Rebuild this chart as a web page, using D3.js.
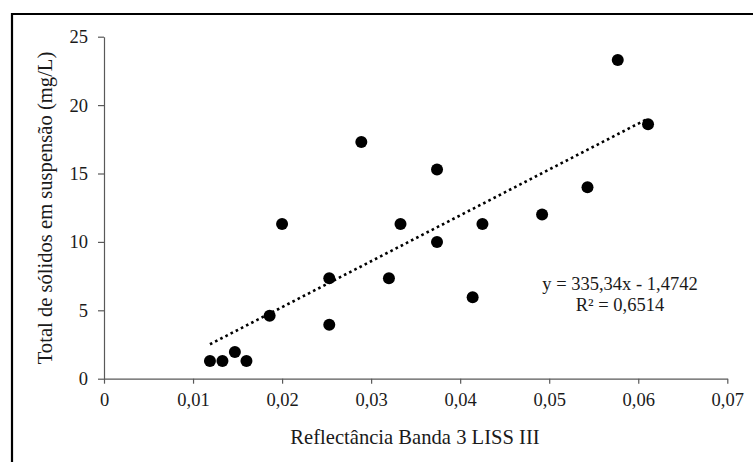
<!DOCTYPE html>
<html><head><meta charset="utf-8">
<script src="https://cdn.jsdelivr.net/npm/d3@7"></script>
<style>
html,body{margin:0;padding:0;background:#fff;}
svg{display:block;}
text{font-family:"Liberation Serif","Times New Roman",serif;fill:#1a1a1a;}
</style></head><body>
<script>
// Data
const reflectance = [0.0119,0.0133,0.0147,0.0160,0.0186,0.0200,0.0253,0.0253,0.0289,0.0320,0.0333,0.0374,0.0374,0.0414,0.0425,0.0492,0.0543,0.0577,0.0611];
const tss =         [1.3,   1.3,   1.95,  1.3,   4.6,   11.3,  7.35,  3.95,  17.3,  7.35,  11.3,  15.3,  10.0,  5.95,  11.3,  12.0,  14.0,  23.3,  18.6];
const xTicks = [0,0.01,0.02,0.03,0.04,0.05,0.06,0.07];
const yTicks = [0,5,10,15,20,25];
const trendCoef = [335.34, -1.4742]; // slope, intercept
const trendRange = [0.0119, 0.0611];
const equationLines = ["y = 335,34x - 1,4742", "R\u00b2 = 0,6514"];
const xTitle = "Reflectância Banda 3 LISS III";
const yTitle = "Total de sólidos em suspensão (mg/L)";

const W=753,H=462;
const svg=d3.select("body").append("svg").attr("width",W).attr("height",H);

// outer frame (only top and left edges visible in reference)
svg.append("line").attr("x1",12).attr("x2",W).attr("y1",14).attr("y2",14).attr("stroke","#000").attr("stroke-width",2.2);
svg.append("line").attr("x1",12).attr("x2",12).attr("y1",13).attr("y2",H).attr("stroke","#000").attr("stroke-width",2.2);

const x=d3.scaleLinear().domain([0,0.07]).range([104,727.3]);
const y=d3.scaleLinear().domain([0,25]).range([378.7,36.7]);
const fmt=d=>d===0?"0":d3.format(".2f")(d).replace(".",",");
const axisColor="#595959";

const gx=svg.append("g").attr("transform",`translate(0,${y(0)})`)
  .call(d3.axisBottom(x).tickValues(xTicks).tickFormat(fmt).tickSize(5).tickSizeOuter(0).tickPadding(9));
const gy=svg.append("g").attr("transform",`translate(${x(0)},0)`)
  .call(d3.axisLeft(y).tickValues(yTicks).tickFormat(d3.format("d")).tickSize(6).tickSizeOuter(0).tickPadding(10));
[gx,gy].forEach(g=>{
  g.select(".domain").attr("stroke",axisColor).attr("stroke-width",1.2);
  g.selectAll(".tick line").attr("stroke",axisColor).attr("stroke-width",1.2);
  g.selectAll(".tick text").attr("font-family","Liberation Serif").attr("font-size",18.5).attr("fill","#1a1a1a");
});

// trendline
svg.append("path").datum(trendRange)
  .attr("d",d3.line().x(d=>x(d)).y(d=>y(trendCoef[0]*d+trendCoef[1])))
  .attr("fill","none").attr("stroke","#000").attr("stroke-width",2.6)
  .attr("stroke-dasharray","2.6,3.2");

// points
svg.append("g").selectAll("circle").data(reflectance.map((r,i)=>[r,tss[i]])).join("circle")
  .attr("cx",d=>x(d[0])).attr("cy",d=>y(d[1])).attr("r",6).attr("fill","#000");

// equation
svg.append("text").attr("x",620).attr("y",290).attr("text-anchor","middle").attr("font-size",18.5).text(equationLines[0]);
svg.append("text").attr("x",620).attr("y",311).attr("text-anchor","middle").attr("font-size",18.5).text(equationLines[1]);

// titles
svg.append("text").attr("x",415).attr("y",444).attr("text-anchor","middle").attr("font-size",20.6).text(xTitle);
svg.append("text").attr("transform","translate(52,208) rotate(-90)").attr("text-anchor","middle").attr("font-size",20.6).text(yTitle);
</script>
</body></html>
